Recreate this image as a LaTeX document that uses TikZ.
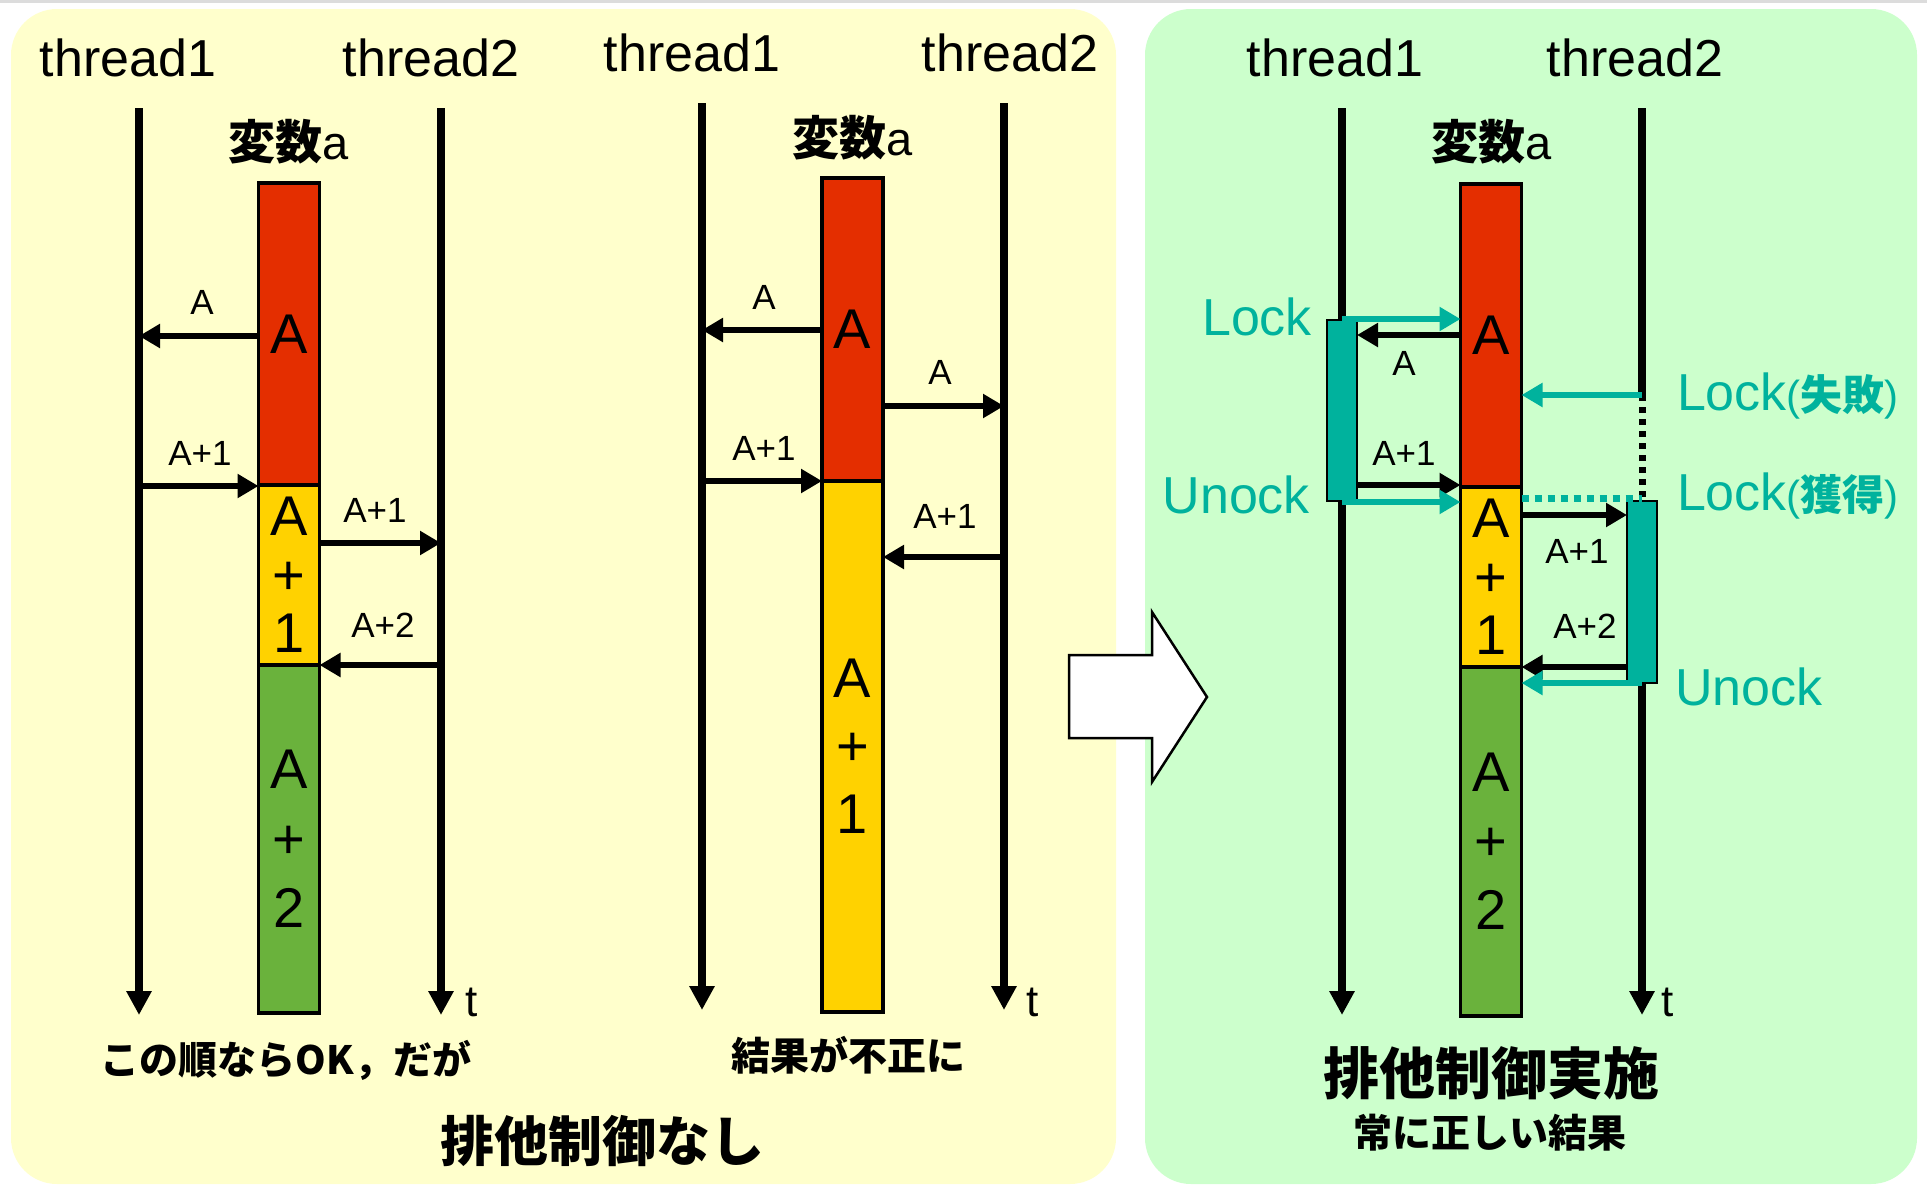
\documentclass[tikz,border=0pt]{standalone}
\usepackage{fontspec}
\setmainfont{Liberation Sans}
\newfontfamily\cjk{Noto Sans CJK JP}
\usetikzlibrary{arrows.meta}

\definecolor{panelY}{RGB}{255,255,204}
\definecolor{panelG}{RGB}{204,255,204}
\definecolor{valRed}{RGB}{228,46,0}
\definecolor{valYel}{RGB}{255,210,0}
\definecolor{valGrn}{RGB}{106,178,60}
\definecolor{lockT}{RGB}{0,178,157}
\definecolor{rule}{RGB}{220,220,220}

\newcommand\fs[2]{\fontsize{#1}{#2}\selectfont}

\begin{document}
\begin{tikzpicture}[x=1pt,y=-1pt,
  every node/.style={inner sep=0pt,outer sep=0pt},
  panel/.style={rounded corners=46pt},
  lifeline/.style={line width=8pt,-{Triangle[length=24pt,width=24pt]}},
  msg/.style={line width=5.5pt,-{Triangle[length=21pt,width=23pt]}},
  seg/.style={draw,line width=3.5pt,minimum width=61pt,align=center,font=\fs{56}{60}},
  thr/.style={anchor=base,font=\fs{52}{60}},
  lbl/.style={anchor=base,font=\fs{35}{42}},
  tlbl/.style={anchor=base,font=\fs{44}{50}},
  varname/.style={anchor=base,font=\fs{47}{56}},
  lockbox/.style={draw,fill=lockT,line width=2pt,minimum width=30pt},
  locklbl/.style={text=lockT,font=\fs{52}{60}},
  note/.style={font=\cjk\bfseries\fs{39}{46}}
]
\useasboundingbox (0,0) rectangle (1927,1184);
\fill[white] (0,0) rectangle (1927,1184);
\fill[rule] (0,0) rectangle (1927,2.5);

% background panels
\fill[panelY,panel] (11,9) rectangle (1116,1184);
\fill[panelG,panel] (1145,9) rectangle (1917,1184);

% ---------------- left: correct order ----------------
\node[thr] (p1n1) at (128,76) {thread1};
\node[thr] (p1n2) at (431,76) {thread2};
\coordinate (p1a) at (139,108);  \coordinate (p1ae) at (139,1015);
\coordinate (p1b) at (441,108);  \coordinate (p1be) at (441,1015);
\draw[lifeline] (p1a) -- (p1ae);
\draw[lifeline] (p1b) -- (p1be);
\node[varname] (p1v) at (289,159) {{\cjk\bfseries 変数}a};
\node[seg,fill=valRed,minimum height=302pt] (p1r) at (289,334) {A};
\node[seg,fill=valYel,minimum height=180pt,font=\fs{56}{58.5}] (p1y) at (289,575) {A\\+\\1};
\node[seg,fill=valGrn,minimum height=348pt,font=\fs{56}{69.5}] (p1g) at (289,839) {A\\+\\2};
\draw[msg] (p1r.west |- 0,336) -- (p1a |- 0,336);
\node[lbl] (p1l1) at (202,314) {A};
\draw[msg] (p1a |- 0,486) -- (p1y.west |- 0,486);
\node[lbl] (p1l2) at (200,465) {A+1};
\draw[msg] (p1y.east |- 0,543) -- (p1b |- 0,543);
\node[lbl] (p1l3) at (375,522) {A+1};
\draw[msg] (p1b |- 0,665) -- (p1g.east |- 0,665);
\node[lbl] (p1l4) at (383,637) {A+2};
\node[tlbl] (p1t) at (472,1016) {t};
\node[note] (p1c) at (286,1060) {この順ならOK，だが};

% ---------------- middle: interleaved ----------------
\node[thr] (p2n1) at (692,71) {thread1};
\node[thr] (p2n2) at (1010,71) {thread2};
\coordinate (p2a) at (702,103);  \coordinate (p2ae) at (702,1010);
\coordinate (p2b) at (1004,103); \coordinate (p2be) at (1004,1010);
\draw[lifeline] (p2a) -- (p2ae);
\draw[lifeline] (p2b) -- (p2be);
\node[varname] (p2v) at (853,155) {{\cjk\bfseries 変数}a};
\node[seg,fill=valRed,minimum height=303pt] (p2r) at (852.5,329.5) {A};
\node[seg,fill=valYel,minimum height=531pt,font=\fs{56}{68}] (p2y) at (852.5,746.5) {A\\+\\1};
\draw[msg] (p2r.west |- 0,330) -- (p2a |- 0,330);
\node[lbl] (p2l1) at (764,309) {A};
\draw[msg] (p2r.east |- 0,406) -- (p2b |- 0,406);
\node[lbl] (p2l2) at (940,384) {A};
\draw[msg] (p2a |- 0,481) -- (p2y.west |- 0,481);
\node[lbl] (p2l3) at (764,460) {A+1};
\draw[msg] (p2b |- 0,557) -- (p2y.east |- 0,557);
\node[lbl] (p2l4) at (945,528) {A+1};
\node[tlbl] (p2t) at (1033,1016) {t};
\node[note] (p2c) at (848,1055) {結果が不正に};

\node[font=\cjk\bfseries\fs{54}{60}] (p12) at (602,1141) {排他制御なし};

% block arrow between the panels
\draw[fill=white,line width=2.5pt,line join=miter]
  (1069,655) -- (1152,655) -- (1152,612) -- (1207,697)
  -- (1152,782) -- (1152,738) -- (1069,738) -- cycle;

% ---------------- right: with mutual exclusion ----------------
\node[thr] (p3n1) at (1335,76) {thread1};
\node[thr] (p3n2) at (1635,76) {thread2};
\coordinate (p3a) at (1342,108);  \coordinate (p3ae) at (1342,1015);
\coordinate (p3b) at (1642,108);  \coordinate (p3be) at (1642,1015);
\coordinate (p3wait) at (1642,395); \coordinate (p3got) at (1642,501);
\draw[lifeline] (p3a) -- (p3ae);
\draw[line width=8pt] (p3b) -- (p3wait);
\draw[line width=7pt,dash pattern=on 6pt off 6pt] (p3wait) -- (p3got);
\draw[lifeline] (p3got) -- (p3be);
\node[varname] (p3v) at (1492,159) {{\cjk\bfseries 変数}a};
\node[seg,fill=valRed,minimum height=303pt] (p3r) at (1491,335.5) {A};
\node[seg,fill=valYel,minimum height=180pt,font=\fs{56}{58.5}] (p3y) at (1491,577) {A\\+\\1};
\node[seg,fill=valGrn,minimum height=349pt,font=\fs{56}{69}] (p3g) at (1491,841.5) {A\\+\\2};
\node[lockbox,minimum height=181pt] (lk1) at (1342,410.5) {};
\node[lockbox,minimum height=182pt] (lk2) at (1642,592) {};

\draw[msg,lockT] (p3a |- 0,319) -- (p3r.west |- 0,319);
\draw[msg] (p3r.west |- 0,335) -- (lk1.east |- 0,335);
\node[lbl] (p3l1) at (1404,375) {A};
\draw[msg] (lk1.east |- 0,485) -- (p3r.west |- 0,485);
\node[lbl] (p3l2) at (1404,465) {A+1};
\draw[msg,lockT] (p3a |- 0,502) -- (p3y.west |- 0,502);

\draw[msg,lockT] (p3wait) -- (p3r.east |- p3wait);
\draw[lockT,line width=7pt,dash pattern=on 7pt off 6pt] (p3y.east |- 0,498) -- (p3b |- 0,498);
\draw[msg] (p3y.east |- 0,515) -- (lk2.west |- 0,515);
\node[lbl] (p3l3) at (1577,563) {A+1};
\draw[msg] (lk2.west |- 0,667) -- (p3g.east |- 0,667);
\node[lbl] (p3l4) at (1585,638) {A+2};
\draw[msg,lockT] (p3b |- 0,683) -- (p3g.east |- 0,683);

\node[locklbl,anchor=base east] (k1) at (1312,335) {Lock};
\node[locklbl,anchor=base east] (k2) at (1310,513) {Unock};
\node[locklbl,anchor=base west] (k3) at (1677,410) {Lock{\fs{42}{48}({\cjk\bfseries 失敗})}};
\node[locklbl,anchor=base west] (k4) at (1677,510) {Lock{\fs{42}{48}({\cjk\bfseries 獲得})}};
\node[locklbl,anchor=base west] (k5) at (1675,705) {Unock};
\node[tlbl] (p3t) at (1668,1016) {t};

\node[font=\cjk\bfseries\fs{56}{62}] (p3c) at (1491,1073) {排他制御実施};
\node[note] (p3d) at (1490,1133) {常に正しい結果};
\end{tikzpicture}
\end{document}
